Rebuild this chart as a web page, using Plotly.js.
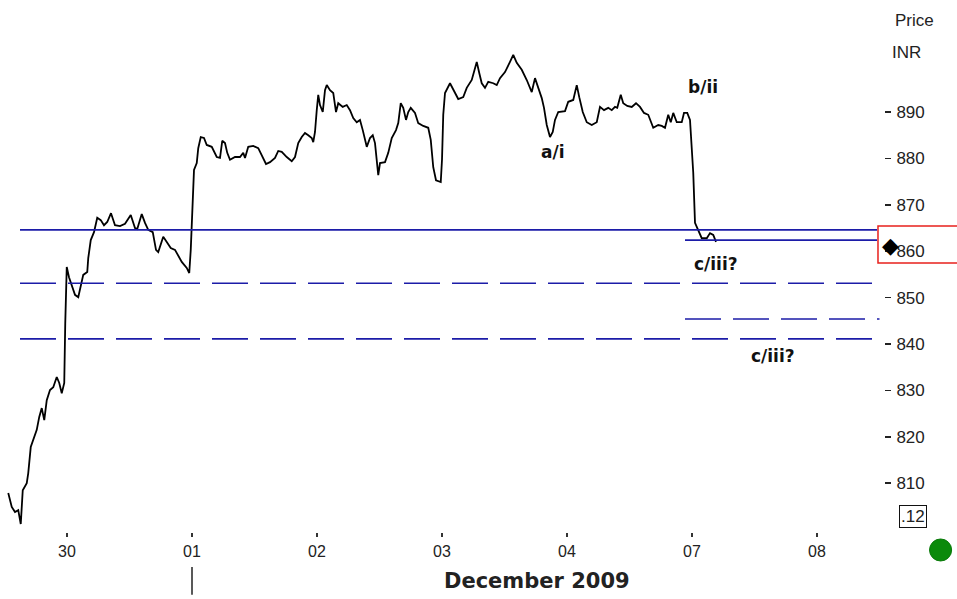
<!DOCTYPE html>
<html>
<head>
<meta charset="utf-8">
<script src="https://cdn.plot.ly/plotly-3.0.1.min.js"></script>
<style>html,body{margin:0;padding:0;background:#fff;}#chart{width:957px;height:599px;}</style>
</head>
<body>
<div id="chart"></div>
<script>
// Trading-day index (0 = 30 Nov, 1 = 01 Dec, ... 5 = 07 Dec, 6 = 08 Dec)
const dayLabels = ["30", "01", "02", "03", "04", "07", "08"];
const dayTicks = [0, 1, 2, 3, 4, 5, 6];
const priceTicks = [810, 820, 830, 840, 850, 860, 870, 880, 890];

const time = [
-0.470,-0.442,-0.416,-0.390,-0.370,-0.354,-0.322,-0.310,-0.290,-0.270,
-0.242,-0.222,-0.202,-0.182,-0.162,-0.136,-0.110,-0.082,-0.062,-0.042,
-0.022,-0.014,-0.002,0.016,0.038,0.064,0.090,0.112,0.130,0.162,
0.170,0.190,0.216,0.242,0.270,0.296,0.322,0.352,0.384,0.424,
0.464,0.510,0.544,0.562,0.598,0.624,0.650,0.686,0.712,0.730,
0.744,0.770,0.798,0.830,0.864,0.918,0.958,0.978,0.990,1.006,
1.016,1.038,1.050,1.070,1.096,1.118,1.158,1.198,1.224,1.242,
1.264,1.282,1.304,1.344,1.384,1.410,1.424,1.450,1.490,1.530,
1.558,1.592,1.624,1.664,1.690,1.718,1.758,1.798,1.824,1.850,
1.878,1.904,1.930,1.958,1.970,1.984,1.998,2.010,2.024,2.046,
2.064,2.078,2.104,2.130,2.152,2.170,2.206,2.238,2.264,2.290,
2.318,2.344,2.366,2.384,2.398,2.424,2.446,2.464,2.490,2.504,
2.544,2.570,2.598,2.632,2.650,2.670,2.690,2.712,2.730,2.750,
2.784,2.810,2.850,2.890,2.910,2.930,2.952,2.990,3.000,3.010,
3.024,3.064,3.104,3.130,3.170,3.198,3.238,3.256,3.278,3.298,
3.318,3.344,3.370,3.410,3.438,3.464,3.504,3.544,3.570,3.598,
3.638,3.678,3.718,3.744,3.770,3.798,3.816,3.838,3.864,3.886,
3.904,3.930,3.984,4.010,4.050,4.078,4.098,4.126,4.158,4.198,
4.238,4.264,4.296,4.330,4.358,4.384,4.402,4.430,4.450,4.482,
4.518,4.552,4.584,4.616,4.650,4.690,4.730,4.758,4.784,4.810,
4.830,4.850,4.878,4.918,4.936,4.962,4.984,4.998,5.010,5.024,
5.050,5.078,5.118,5.144,5.170,5.192
];
const price = [
807.9,804.9,803.8,804.2,801.2,808.5,810.0,812.2,817.8,819.3,
821.5,824.3,826.2,823.6,827.9,830.1,830.7,832.9,831.6,829.4,
831.6,844.5,856.6,854.4,852.7,850.6,850.1,853.1,854.9,855.5,
858.5,862.4,864.1,867.2,866.7,865.6,866.3,868.2,865.6,865.4,
865.9,867.8,865.0,864.8,868.0,866.1,864.6,864.1,860.3,859.8,
860.9,863.1,862.0,860.7,860.3,857.7,856.4,855.3,860.3,871.7,
877.5,879.0,882.2,884.6,884.4,882.9,882.5,880.3,880.1,883.8,
883.3,881.2,879.7,880.3,880.3,881.2,880.1,882.5,882.7,882.2,
880.7,878.8,879.2,880.1,881.6,881.4,880.3,879.4,880.3,883.3,
884.6,885.5,885.0,884.4,883.5,885.7,890.4,893.7,891.5,890.0,
894.7,895.8,894.7,894.1,890.0,891.9,891.1,891.5,890.4,888.7,
887.8,888.3,886.1,884.0,882.5,884.4,885.0,883.3,876.4,879.0,
879.2,881.2,884.4,886.1,887.6,891.9,890.9,888.3,890.0,890.9,
889.8,887.6,887.0,886.6,884.0,878.1,875.3,874.9,879.7,889.4,
894.1,896.2,894.1,892.8,893.2,895.2,896.9,898.6,900.8,898.4,
896.2,895.2,896.5,896.2,895.8,897.3,898.6,900.8,902.3,900.6,
899.1,896.9,894.3,897.3,895.2,893.0,890.9,887.2,884.6,885.7,
888.3,890.0,890.2,892.2,892.6,895.8,893.2,890.0,887.8,887.2,
887.8,891.1,890.4,890.9,890.4,891.1,890.9,893.7,891.9,891.3,
891.1,891.9,891.1,889.8,889.4,886.6,887.2,887.0,886.6,889.4,
887.8,889.8,887.8,887.8,889.8,889.8,888.3,883.3,876.9,866.1,
864.6,862.8,862.8,863.9,863.5,862.0
];

// Horizontal levels
const solidLevels = [864.6];
const shortSolidLevels = [862.4];
const dashedLevels = [853.1, 841.1];
const shortDashedLevels = [845.4];
const lastPrice = 861.1;

// Wave labels
const waveText = ["b/ii", "a/i", "c/iii?", "c/iii?"];
const waveX = [5.088, 3.888, 5.192, 5.648];
const waveY = [895.4, 881.4, 857.2, 837.4];

const lineStart = -0.376, lineEnd = 6.48, shortStart = 4.944, shortDashEnd = 6.50;
const blue = "#1c1ca8";

const shapes = [];
solidLevels.forEach(v => shapes.push({type:"line", xref:"x", yref:"y", x0:lineStart, x1:lineEnd, y0:v, y1:v, line:{color:blue, width:1.6}}));
shortSolidLevels.forEach(v => shapes.push({type:"line", xref:"x", yref:"y", x0:shortStart, x1:lineEnd, y0:v, y1:v, line:{color:blue, width:1.6}}));
dashedLevels.forEach(v => shapes.push({type:"line", xref:"x", yref:"y", x0:lineStart, x1:lineEnd, y0:v, y1:v, line:{color:blue, width:1.6, dash:"36px,12px"}}));
shortDashedLevels.forEach(v => shapes.push({type:"line", xref:"x", yref:"y", x0:shortStart, x1:shortDashEnd, y0:v, y1:v, line:{color:blue, width:1.6, dash:"36px,12px"}}));
// red box around last price
shapes.push({type:"rect", xref:"paper", yref:"paper", x0:0.9932, x1:1.09, y0:0.5056, y1:0.575, line:{color:"#e8201c", width:1.5}, fillcolor:"rgba(0,0,0,0)"});
// green status dot
shapes.push({type:"circle", xref:"paper", yref:"paper", x0:1.0515, x1:1.0765, y0:-0.0131, y1:-0.0545, line:{color:"#0a7a0a", width:1}, fillcolor:"#0b8a0b"});
// marker under "01"
shapes.push({type:"line", xref:"x", yref:"paper", x0:1, x1:1, y0:-0.066, y1:-0.118, line:{color:"#222", width:1.5}});

const annotations = waveText.map((t,i) => ({
  x: waveX[i], y: waveY[i], xref:"x", yref:"y", text:"<b>"+t+"</b>", showarrow:false,
  font:{family:"DejaVu Sans, Verdana, sans-serif", size:17, color:"#111"}
}));
annotations.push({xref:"paper", yref:"paper", x:1.034, y:0.962, text:"Price", showarrow:false, xanchor:"center", yanchor:"middle", font:{family:"Liberation Sans, Arial, sans-serif", size:17, color:"#222"}});
annotations.push({xref:"paper", yref:"paper", x:1.026, y:0.902, text:"INR", showarrow:false, xanchor:"center", yanchor:"middle", font:{family:"Liberation Sans, Arial, sans-serif", size:17, color:"#222"}});
annotations.push({xref:"paper", yref:"paper", x:1.033, y:0.030, text:".12", showarrow:false, xanchor:"center", yanchor:"middle", bordercolor:"#111", borderwidth:1, borderpad:1, font:{family:"Liberation Sans, Arial, sans-serif", size:17, color:"#222"}});
annotations.push({xref:"paper", yref:"paper", x:0.6075, y:-0.092, text:"<b>December 2009</b>", showarrow:false, xanchor:"center", yanchor:"middle", font:{family:"DejaVu Sans, Verdana, sans-serif", size:21, color:"#222"}});
// last-price marker
annotations.push({xref:"paper", yref:"paper", x:1.0075, y:0.5376, text:"◆", showarrow:false, xanchor:"center", yanchor:"middle", font:{family:"DejaVu Sans, sans-serif", size:22, color:"#000"}});

const traces = [
  {x: time, y: price, type:"scatter", mode:"lines", line:{color:"#000", width:1.8}, hoverinfo:"skip"}
];

const layout = {
  width:957, height:599,
  margin:{l:0, r:73, t:0, b:67},
  paper_bgcolor:"#fff", plot_bgcolor:"#fff",
  showlegend:false,
  xaxis:{range:[-0.536, 6.536], tickvals:dayTicks, ticktext:dayLabels, showgrid:false, zeroline:false, showline:false,
         ticks:"outside", ticklen:4, tickwidth:1.5, tickcolor:"#333", ticklabelstandoff:1,
         tickfont:{family:"Liberation Sans, Arial, sans-serif", size:16, color:"#222"}},
  yaxis:{range:[799.49, 914.14], side:"right", tickvals:priceTicks, showgrid:false, zeroline:false, showline:false,
         ticks:"outside", ticklen:6, tickwidth:1.5, tickcolor:"#222", ticklabelstandoff:2,
         tickfont:{family:"Liberation Sans, Arial, sans-serif", size:17, color:"#222"}},
  shapes: shapes,
  annotations: annotations
};

Plotly.newPlot("chart", traces, layout, {staticPlot:true, displayModeBar:false});
</script>
</body>
</html>
